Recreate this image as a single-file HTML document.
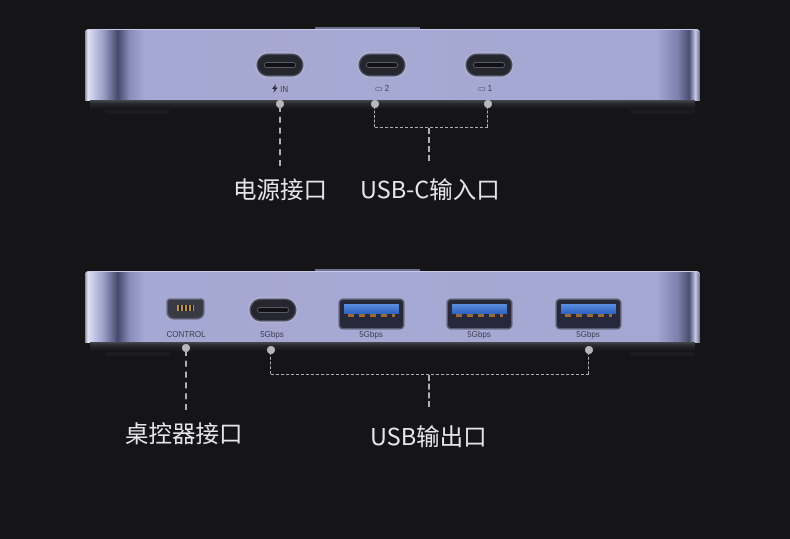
<!DOCTYPE html>
<html><head><meta charset="utf-8"><style>
body{margin:0;width:790px;height:539px;background:#151416;position:relative;overflow:hidden;font-family:"Liberation Sans","Noto Sans CJK SC",sans-serif}
.abs{position:absolute}
.body{position:absolute;left:85px;width:615px;height:72px;border-radius:4px 4px 0 0;
background:linear-gradient(90deg,#7a7c9c 0,#e0e2f4 3px,#c0c3e4 10px,#9598c2 20px,#45486c 33px,#8a8dbb 45px,#a5a8d2 60px,#a6a9d3 50%,#a4a7d1 93%,#7c7fab 96.5%,#4a4d70 98.3%,#c8cbe6 99.3%,#6a6d8c 100%);
box-shadow:inset 0 1px 0 #c8cbe8}
.base{position:absolute;left:90px;width:605px;height:10px;background:linear-gradient(#4a4a52,#26262b 40%,#151517)}
.foot{position:absolute;height:4px;width:65px;background:#1c1c20;border-radius:0 0 3px 3px}
.notch{position:absolute;left:315px;width:105px;height:2px;background:#6d7090}
.c{position:absolute;width:44px;height:20px;border-radius:10px;background:#26262e;box-shadow:0 0 0 1.5px #4a4c5e,0 0 0 2.5px #b9bcd8}
.c::after{content:"";position:absolute;left:6px;top:7px;width:32px;height:6px;border-radius:3px;background:#111116;border:1px solid #5a5a66;box-sizing:border-box}
.lbl{position:absolute;font-size:8px;color:#3a3c4e;transform:translateX(-50%);white-space:nowrap}
.a{position:absolute;width:63px;height:28px;border-radius:3px;background:#27283a;box-shadow:0 0 0 1.5px #5a5c70}
.a .bl{position:absolute;left:4px;top:4px;width:55px;height:10px;background:linear-gradient(#5b8fe0,#2f62c0)}
.a .pins{position:absolute;left:8px;top:14px;width:47px;height:3px;background:repeating-linear-gradient(90deg,#9a6a3a 0 6px,transparent 6px 11px)}
.dot{position:absolute;width:8px;height:8px;border-radius:50%;background:#b8b8bc;transform:translate(-50%,-50%)}
.v{position:absolute;border-left:2px dashed #b0b0b4;width:0}
.h{position:absolute;border-top:1.5px dashed #b0b0b4;height:0}
.vs{position:absolute;border-left:1.5px dashed #b0b0b4;width:0}
.t{position:absolute;color:#e6e6e8;font-size:23.5px;white-space:nowrap;font-family:"Noto Sans CJK SC",sans-serif}
</style></head><body>
<!-- top device -->
<div class="notch" style="top:27px"></div>
<div class="body" style="top:29px"></div>
<div class="base" style="top:100px"></div>
<div class="foot" style="left:105px;top:110px"></div>
<div class="foot" style="left:630px;top:110px"></div>
<div class="c" style="left:258px;top:55px"></div>
<div class="c" style="left:360px;top:55px"></div>
<div class="c" style="left:467px;top:55px"></div>
<div class="lbl" style="left:280px;top:84px"><svg width="6" height="9" viewBox="0 0 6 9" style="vertical-align:-1px"><path d="M4 0L0 5h2.5L1.5 9 6 3.5H3.5z" fill="#2a2c3c"/></svg> IN</div>
<div class="lbl" style="left:382px;top:84px">▭ 2</div>
<div class="lbl" style="left:485px;top:84px">▭ 1</div>
<div class="dot" style="left:280px;top:104px"></div>
<div class="dot" style="left:375px;top:104px"></div>
<div class="dot" style="left:488px;top:104px"></div>
<div class="v" style="left:279px;top:106px;height:60px"></div>
<div class="vs" style="left:374px;top:106px;height:21px"></div>
<div class="vs" style="left:487px;top:106px;height:21px"></div>
<div class="h" style="left:375px;top:127px;width:113px"></div>
<div class="v" style="left:428px;top:128px;height:33px"></div>
<div class="t" style="left:233px;top:171px">电源接口</div>
<div class="t" style="left:360px;top:171px">USB-C输入口</div>
<!-- bottom device -->
<div class="notch" style="top:269px"></div>
<div class="body" style="top:271px"></div>
<div class="base" style="top:342px"></div>
<div class="foot" style="left:105px;top:352px"></div>
<div class="foot" style="left:630px;top:352px"></div>
<div class="abs" style="left:168px;top:300px;width:35px;height:18px;background:#3a3a44;border-radius:2px 2px 6px 6px;box-shadow:0 0 0 1.5px #5a5c70"><div style="position:absolute;left:9px;top:5px;width:17px;height:6px;background:repeating-linear-gradient(90deg,#b8924a 0 2px,#222 2px 4px)"></div></div>
<div class="c" style="left:251px;top:300px"></div>
<div class="a" style="left:340px;top:300px"><div class="bl"></div><div class="pins"></div></div>
<div class="a" style="left:448px;top:300px"><div class="bl"></div><div class="pins"></div></div>
<div class="a" style="left:557px;top:300px"><div class="bl"></div><div class="pins"></div></div>
<div class="lbl" style="left:186px;top:330px">CONTROL</div>
<div class="lbl" style="left:272px;top:330px">5Gbps</div>
<div class="lbl" style="left:371px;top:330px">5Gbps</div>
<div class="lbl" style="left:479px;top:330px">5Gbps</div>
<div class="lbl" style="left:588px;top:330px">5Gbps</div>
<div class="dot" style="left:186px;top:348px"></div>
<div class="dot" style="left:271px;top:350px"></div>
<div class="dot" style="left:589px;top:350px"></div>
<div class="v" style="left:185px;top:350px;height:60px"></div>
<div class="vs" style="left:270px;top:352px;height:22px"></div>
<div class="vs" style="left:588px;top:352px;height:22px"></div>
<div class="h" style="left:271px;top:374px;width:318px"></div>
<div class="v" style="left:428px;top:375px;height:32px"></div>
<div class="t" style="left:125px;top:415px">桌控器接口</div>
<div class="t" style="left:370px;top:418px">USB输出口</div>
</body></html>
